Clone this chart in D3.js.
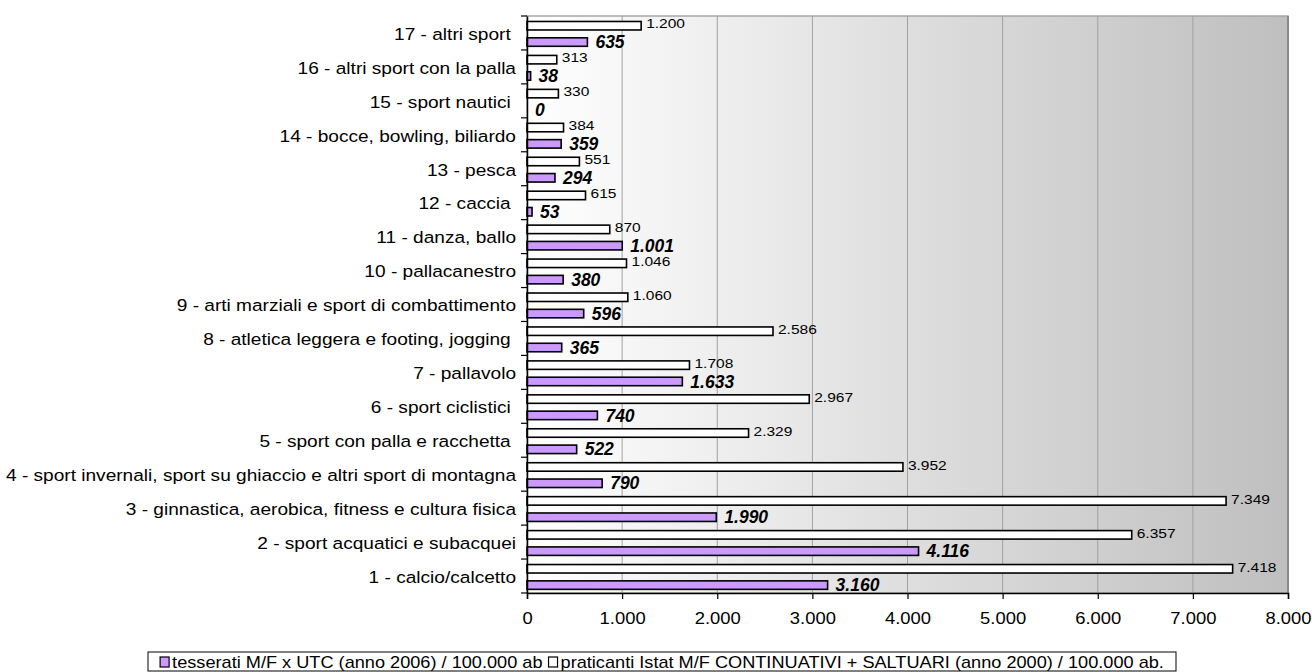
<!DOCTYPE html>
<html><head><meta charset="utf-8">
<script src="https://cdn.jsdelivr.net/npm/d3@7"></script>
<style>
html,body{margin:0;padding:0;background:#fff;}
svg{display:block;font-family:"Liberation Sans",Arial,sans-serif;}
</style></head>
<body><svg id="chart" width="1312" height="672"></svg>
<script>
const categories = [
  "1 - calcio/calcetto",
  "2 - sport acquatici e subacquei",
  "3 - ginnastica, aerobica, fitness e cultura fisica",
  "4 - sport invernali, sport su ghiaccio e altri sport di montagna",
  "5 - sport con palla e racchetta ",
  "6 - sport ciclistici ",
  "7 - pallavolo",
  "8 - atletica leggera e footing, jogging ",
  "9 - arti marziali e sport di combattimento",
  "10 - pallacanestro",
  "11 - danza, ballo",
  "12 - caccia ",
  "13 - pesca",
  "14 - bocce, bowling, biliardo",
  "15 - sport nautici ",
  "16 - altri sport con la palla",
  "17 - altri sport "
];
const praticanti = [7418, 6357, 7349, 3952, 2329, 2967, 1708, 2586, 1060, 1046, 870, 615, 551, 384, 330, 313, 1200];
const tesserati  = [3160, 4116, 1990, 790, 522, 740, 1633, 365, 596, 380, 1001, 53, 294, 359, 0, 38, 635];
const xTicks = [0, 1000, 2000, 3000, 4000, 5000, 6000, 7000, 8000];
const seriesNames = ["praticanti", "tesserati"];
const legendLabels = [
  "tesserati M/F x UTC (anno 2006) / 100.000 ab",
  "praticanti Istat M/F CONTINUATIVI + SALTUARI (anno 2000) / 100.000 ab."
];

const fmt = v => d3.format(",")(v).replace(/,/g, ".");
const SX = 1.15; // horizontal stretch of the reference text

const svg = d3.select("#chart");
const L = 527, R = 1288, T = 16, B = 593;

const x = d3.scaleLinear().domain([0, 8000]).range([L, R]);
const y = d3.scaleBand().domain(categories.slice().reverse()).range([T, B]).padding(0);
const sub = d3.scaleBand().domain(seriesNames).range([0, y.bandwidth()])
  .paddingInner(0.48).paddingOuter(0.28).align(0.6);

// background gradient
const defs = svg.append("defs");
const grad = defs.append("linearGradient").attr("id", "bg").attr("x1", "0").attr("x2", "1").attr("y1", "0").attr("y2", "0");
grad.append("stop").attr("offset", "0").attr("stop-color", "#ffffff");
grad.append("stop").attr("offset", "0.5").attr("stop-color", "#dedede");
grad.append("stop").attr("offset", "1").attr("stop-color", "#bfbfbf");

svg.append("rect").attr("x", L).attr("y", T).attr("width", R - L).attr("height", B - T)
  .attr("fill", "url(#bg)").attr("stroke", "#a6a6a6").attr("stroke-width", 1.5);
svg.append("line").attr("x1", R).attr("x2", R).attr("y1", T).attr("y2", B)
  .attr("stroke", "#8a8a8a").attr("stroke-width", 2);

// gridlines
svg.append("g").selectAll("line").data(xTicks.filter(d => d > 0 && d < 8000)).join("line")
  .attr("x1", d => x(d)).attr("x2", d => x(d)).attr("y1", T).attr("y2", B)
  .attr("stroke", "#a0a0a0").attr("stroke-width", 1);

// bars
const rows = categories.map((c, i) => ({c, p: praticanti[i], t: tesserati[i]}));
const g = svg.append("g");
rows.forEach(r => {
  const y0 = y(r.c);
  g.append("rect").attr("x", x(0)).attr("y", y0 + sub("praticanti"))
    .attr("width", x(r.p) - x(0)).attr("height", sub.bandwidth())
    .attr("fill", "#ffffff").attr("stroke", "#000").attr("stroke-width", 1.6);
  g.append("rect").attr("x", x(0)).attr("y", y0 + sub("tesserati"))
    .attr("width", x(r.t) - x(0)).attr("height", sub.bandwidth())
    .attr("fill", "#cc99ff").attr("stroke", "#000").attr("stroke-width", 1.6);
  g.append("text")
    .attr("transform", `translate(${x(r.p) + 5},${y0 + sub("praticanti") + sub.bandwidth() / 2 - 2}) scale(${SX},1)`)
    .attr("dy", "0.35em").attr("font-size", 13.5).attr("fill", "#000").text(fmt(r.p));
  g.append("text")
    .attr("transform", `translate(${x(r.t) + 8},${y0 + sub("tesserati") + sub.bandwidth() / 2})`)
    .attr("dy", "0.35em").attr("font-size", 17.5).attr("font-weight", "bold").attr("font-style", "italic")
    .attr("fill", "#000").text(fmt(r.t));
});

// y axis
const yAxis = d3.axisLeft(y).tickSize(0).tickFormat(() => "");
const yg = svg.append("g").attr("transform", `translate(${L},0)`).call(yAxis);
yg.select(".domain").attr("stroke", "#000").attr("stroke-width", 1.5);
svg.append("g").selectAll("line").data(d3.range(categories.length + 1)).join("line")
  .attr("x1", L - 6).attr("x2", L).attr("y1", i => T + i * y.step()).attr("y2", i => T + i * y.step())
  .attr("stroke", "#000").attr("stroke-width", 1.2);
svg.append("g").selectAll("text").data(categories).join("text")
  .attr("transform", d => `translate(${L - 11},${y(d) + y.bandwidth() / 2 + 1}) scale(${SX},1)`)
  .attr("dy", "0.35em")
  .attr("text-anchor", "end").attr("font-size", 16.6).attr("fill", "#000")
  .style("white-space", "pre").text(d => d);

// x axis
const xAxis = d3.axisBottom(x).tickValues(xTicks).tickSize(6).tickPadding(14).tickFormat(fmt);
const xg = svg.append("g").attr("transform", `translate(0,${B})`).call(xAxis);
xg.select(".domain").attr("stroke", "#000").attr("stroke-width", 1.5);
xg.selectAll(".tick line").attr("stroke", "#000").attr("stroke-width", 1.2);
xg.selectAll(".tick text").attr("font-size", 16).attr("fill", "#000")
  .attr("font-family", "Liberation Sans, Arial, sans-serif")
  .attr("transform", `scale(${SX},1)`);

// legend
const boxL = 148, boxR = 1176;
svg.append("rect").attr("x", boxL).attr("y", 652).attr("width", boxR - boxL).attr("height", 19)
  .attr("fill", "#fff").attr("stroke", "#000").attr("stroke-width", 1);
const lg = svg.append("g");
const fills = ["#cc99ff", "#ffffff"];
let cx = 0;
legendLabels.forEach((t, i) => {
  const it = lg.append("g").attr("transform", `translate(${cx},0)`);
  it.append("rect").attr("x", 0).attr("y", -5).attr("width", 9).attr("height", 10)
    .attr("fill", fills[i]).attr("stroke", "#000").attr("stroke-width", 1.2);
  const tx = it.append("text").attr("transform", `translate(12,0) scale(${SX},1)`)
    .attr("dy", "0.35em").attr("font-size", 15.8).attr("fill", "#000").text(t);
  const w = 12 + tx.node().getComputedTextLength() * SX;
  cx += w + 6;
});
const totalW = cx - 6;
lg.attr("transform", `translate(${(boxL + boxR) / 2 - totalW / 2},662)`);
</script></body></html>
